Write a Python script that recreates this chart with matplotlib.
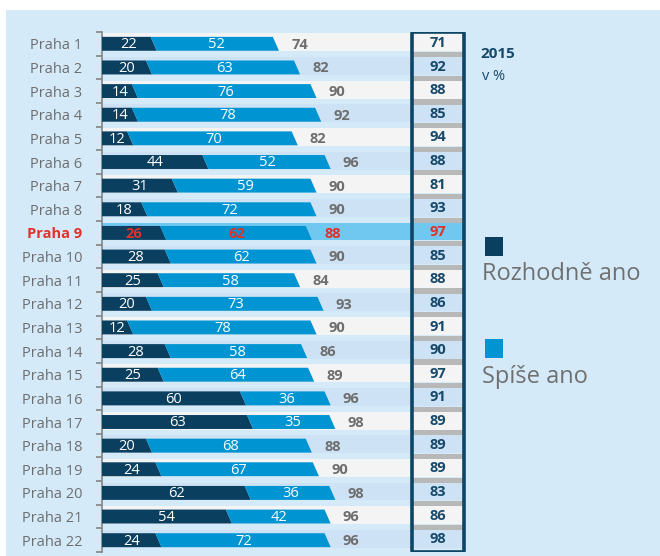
import matplotlib
matplotlib.use("Agg")
import matplotlib.pyplot as plt
from matplotlib.patches import Polygon, Rectangle, FancyBboxPatch

plt.rcParams['font.family'] = ['Open Sans', 'DejaVu Sans']

# data
districts = [f"Praha {i}" for i in range(1, 23)]
definitely = [22, 20, 14, 14, 12, 44, 31, 18, 26, 28, 25, 20, 12, 28, 25, 60, 63, 20, 24, 62, 54, 24]
rather = [52, 63, 76, 78, 70, 52, 59, 72, 62, 62, 58, 73, 78, 58, 64, 36, 35, 68, 67, 36, 42, 72]
total = [74, 82, 90, 92, 82, 96, 90, 90, 88, 90, 84, 93, 90, 86, 89, 96, 98, 88, 90, 98, 96, 96]
total_2015 = [71, 92, 88, 85, 94, 88, 81, 93, 97, 85, 88, 86, 91, 90, 97, 91, 89, 89, 89, 83, 86, 98]
highlight = "Praha 9"

DARK = "#0b3f60"
MID = "#0094d3"
PANEL = "#d5eaf9"
STRIPE_A = "#f4f4f4"
STRIPE_B = "#cde3f5"
HILITE = "#70c7ef"
RED = "#e2302a"
GRAY_TXT = "#6e6e6e"
NAVY_TXT = "#17496b"

W, H = 660, 556
fig = plt.figure(figsize=(W / 100, H / 100), dpi=100)
fig.patches.append(Rectangle((6 / W, 0), 1, 546 / H, transform=fig.transFigure,
                             facecolor=PANEL, edgecolor="none", zorder=-10))

ax_l, ax_r, ax_t, ax_b = 102, 468, 32, 552
ax = fig.add_axes([ax_l / W, 1 - ax_b / H, (ax_r - ax_l) / W, (ax_b - ax_t) / H])
ax.patch.set_alpha(0)
px = 2.35  # pixels per percent
ax.set_xlim(0, (ax_r - ax_l) / px)
n = len(districts)
ax.set_ylim(n - 0.5, -0.5)

box_x0, box_x1 = (412 - ax_l) / px, (464 - ax_l) / px
slant = 2.6
bh = 0.59

for i in range(n):
    hi = districts[i] == highlight
    col = HILITE if hi else (STRIPE_A if i % 2 == 0 else STRIPE_B)
    ax.add_patch(Rectangle((0, i - 0.44), box_x1, 0.76, facecolor=col,
                           edgecolor="none", zorder=1))
    if i < n - 1:
        ax.add_patch(Rectangle((box_x0, i + 0.35), box_x1 - box_x0, 0.22,
                               facecolor="#b8b8b8", edgecolor="none", zorder=2))

    d = definitely[i]
    e = d + rather[i]
    top, bot = i - bh / 2, i + bh / 2
    ax.add_patch(Polygon([(0, top), (d - slant / 2, top), (d + slant / 2, bot), (0, bot)],
                         closed=True, facecolor=DARK, edgecolor="none", zorder=3))
    ax.add_patch(Polygon([(d - slant / 2, top), (e - slant / 2, top),
                          (e + slant / 2, bot), (d + slant / 2, bot)],
                         closed=True, facecolor=MID, edgecolor="none", zorder=3))

    wt = "bold" if hi else "normal"
    ax.text(d / 2 + 0.5, i + 0.04, str(d), ha="center", va="center", fontsize=10.5,
            color=RED if hi else "white", fontweight=wt, zorder=4)
    ax.text(d + rather[i] / 2 + 0.5, i + 0.04, str(rather[i]), ha="center", va="center",
            fontsize=10.5, color=RED if hi else "white", fontweight=wt, zorder=4)
    ax.text(e + 6.5, i + 0.04, str(total[i]), ha="left", va="center", fontsize=10.5,
            color=RED if hi else GRAY_TXT, fontweight="bold", zorder=4)
    ax.text((box_x0 + box_x1) / 2, i - 0.04, str(total_2015[i]), ha="center", va="center",
            fontsize=10.5, color=RED if hi else NAVY_TXT, fontweight="bold", zorder=4)

ax.add_patch(FancyBboxPatch((box_x0, -0.5), box_x1 - box_x0, n, boxstyle="round,pad=0,rounding_size=0.4",
                            facecolor="none", edgecolor="#0d4565", linewidth=2.6, zorder=5,
                            mutation_aspect=0.2))

# axis and labels
for s in ["top", "right", "bottom"]:
    ax.spines[s].set_visible(False)
ax.spines["left"].set_color("#858585")
ax.spines["left"].set_linewidth(1.2)
ax.set_xticks([])
ax.set_yticks(range(n))
ax.set_yticklabels(districts, fontsize=10.5, color=GRAY_TXT)
ax.set_yticks([k - 0.5 for k in range(n + 1)], minor=True)
ax.tick_params(axis="y", which="major", length=0, pad=14)
ax.tick_params(axis="y", which="minor", length=4, width=1.2, color="#858585", direction="out")
for lab in ax.get_yticklabels():
    if lab.get_text() == highlight:
        lab.set_color(RED)
        lab.set_fontweight("bold")

# year note and legend
fig.text(480 / W, 1 - 54 / H, "2015", fontsize=11, fontweight="bold", color=NAVY_TXT, va="center")
fig.text(482 / W, 1 - 77 / H, "v %", fontsize=10.5, color=NAVY_TXT, va="center")
fig.patches.append(Rectangle((485 / W, 1 - 256 / H), 18 / W, 19 / H, transform=fig.transFigure,
                             facecolor=DARK, edgecolor="none"))
fig.text(482 / W, 1 - 274 / H, "Rozhodně ano", fontsize=17, color="#707070", va="center")
fig.patches.append(Rectangle((485 / W, 1 - 358 / H), 18 / W, 19 / H, transform=fig.transFigure,
                             facecolor=MID, edgecolor="none"))
fig.text(482 / W, 1 - 377 / H, "Spíše ano", fontsize=17, color="#707070", va="center")

fig.savefig("out.png", dpi=100)
